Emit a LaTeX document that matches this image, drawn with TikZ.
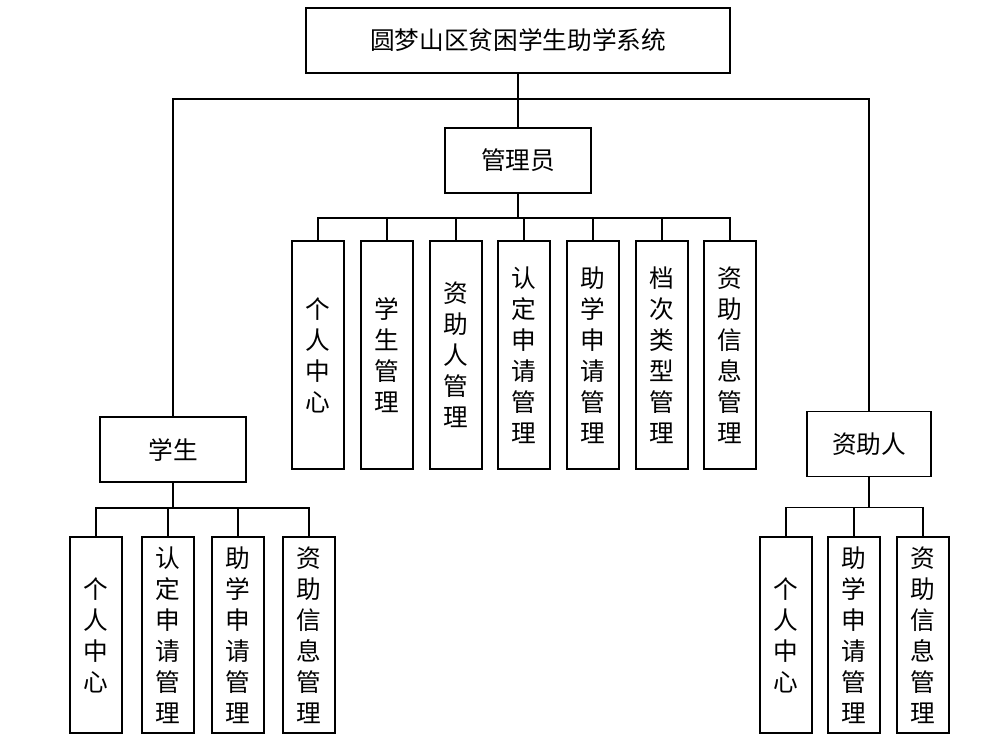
\documentclass[tikz,border=0pt]{standalone}
\usepackage{fontspec}
\setmainfont{Noto Sans CJK SC}
\begin{document}
\begin{tikzpicture}[x=0.75pt, y=-0.75pt, line width=1.3pt,
    box/.style = {draw, rectangle, inner sep=0pt, font=\fontsize{18.5}{23.25}\selectfont},
    wide/.style = {box, minimum width=146*0.75pt, minimum height=65*0.75pt},
    tall/.style = {box, align=center, minimum width=52*0.75pt, minimum height=228*0.75pt},
    short/.style = {box, align=center, minimum width=52*0.75pt, minimum height=196*0.75pt}]
    \useasboundingbox (0,0) rectangle (990,750);

    \node[box, minimum width=424*0.75pt, minimum height=65*0.75pt] (sys) at (518,40.5) {圆梦山区贫困学生助学系统};
    \node[wide] (gly) at (518,160.5) {管理员};
    \node[wide] (xs) at (173,449.5) {学生};
    \node[wide, minimum width=124*0.75pt] (zzr) at (869,444) {资助人};

    % admin
    \node[tall] (g1) at (318,355) {个\\人\\中\\心};
    \node[tall] (g2) at (387,355) {学\\生\\管\\理};
    \node[tall] (g3) at (456,355) {资\\助\\人\\管\\理};
    \node[tall] (g4) at (524,355) {认\\定\\申\\请\\管\\理};
    \node[tall] (g5) at (593,355) {助\\学\\申\\请\\管\\理};
    \node[tall] (g6) at (662,355) {档\\次\\类\\型\\管\\理};
    \node[tall] (g7) at (730,355) {资\\助\\信\\息\\管\\理};

    % student
    \node[short] (x1) at (96,635) {个\\人\\中\\心};
    \node[short] (x2) at (168,635) {认\\定\\申\\请\\管\\理};
    \node[short] (x3) at (238,635) {助\\学\\申\\请\\管\\理};
    \node[short] (x4) at (309,635) {资\\助\\信\\息\\管\\理};

    % sponsor
    \node[short] (z1) at (786,635) {个\\人\\中\\心};
    \node[short] (z2) at (854,635) {助\\学\\申\\请\\管\\理};
    \node[short] (z3) at (923,635) {资\\助\\信\\息\\管\\理};

    \draw (sys.south) -- (gly.north);
    \draw (sys.south) -- ++(0,25) -| (xs.north);
    \draw (sys.south) -- ++(0,25) -| (zzr.north);

    \foreach \i in {1,...,7}
        \draw (gly.south) -- ++(0,24) -| (g\i.north);
    \foreach \i in {1,...,4}
        \draw (xs.south) -- ++(0,25) -| (x\i.north);
    \foreach \i in {1,...,3}
        \draw (zzr.south) -- ++(0,30) -| (z\i.north);

\end{tikzpicture}
\end{document}
